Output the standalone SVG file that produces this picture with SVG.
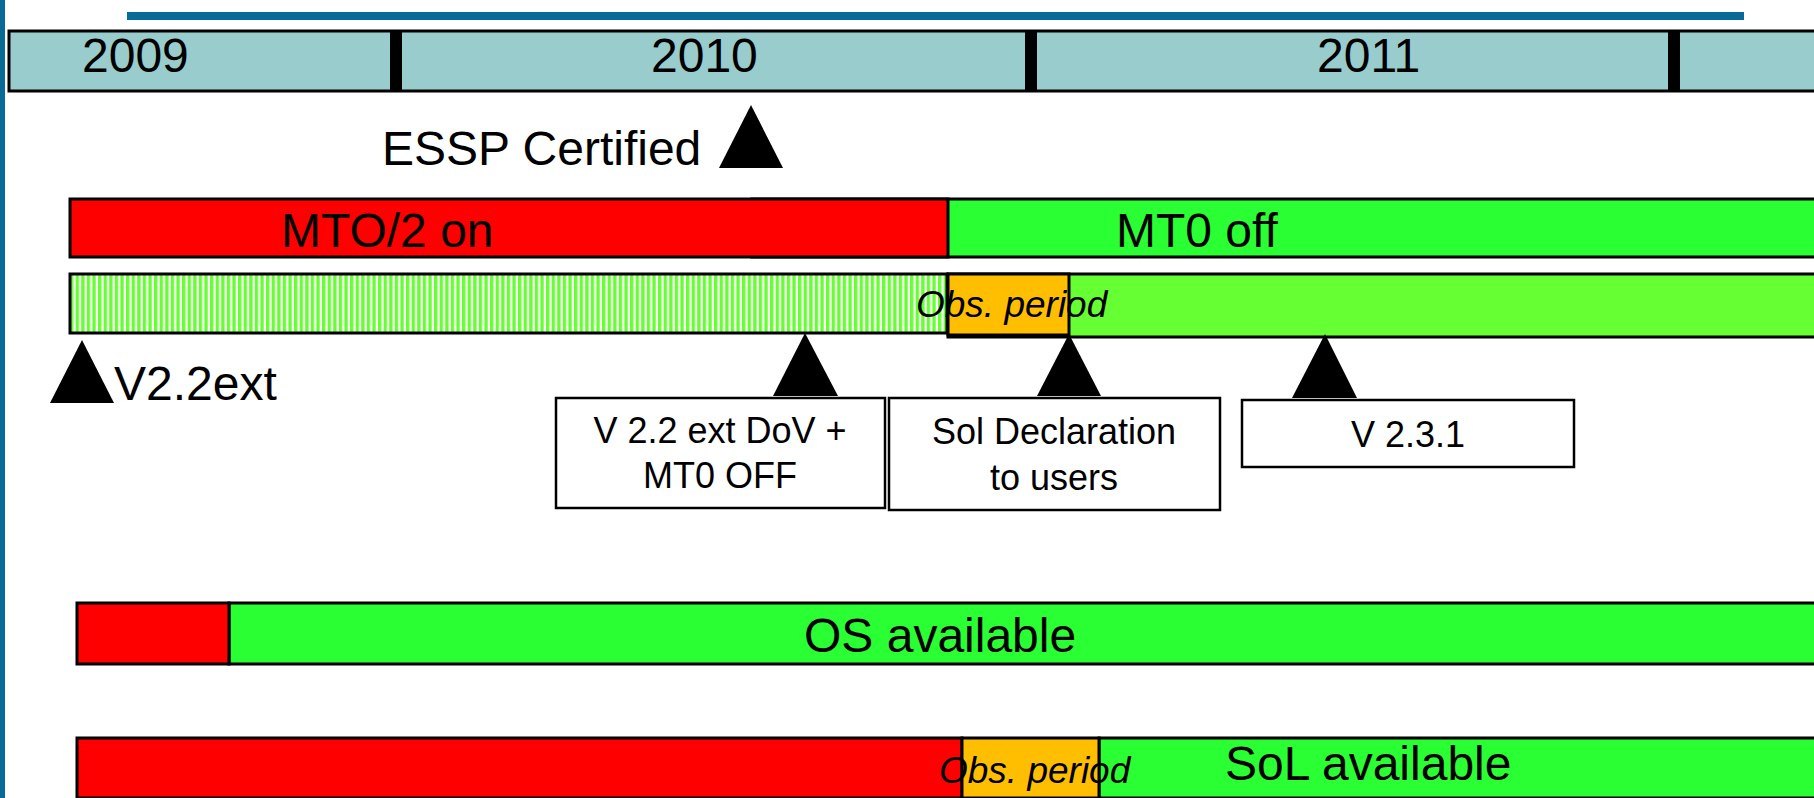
<svg xmlns="http://www.w3.org/2000/svg" width="1814" height="798" viewBox="0 0 1814 798">
<style>
text{font-family:"Liberation Sans",Arial,sans-serif;fill:#000}
.big{font-size:48px}
.mid{font-size:36px}
.obs{font-size:37px;font-style:italic}
.bar{stroke:#000;stroke-width:3}
.box{fill:#fff;stroke:#000;stroke-width:2.5}
.red{fill:#ff0000}
.grn{fill:#29ff33}
.lgr{fill:#66ff33}
.org{fill:#ffbf00}
.tri{fill:#000}
</style>
<defs>
<pattern id="hatch" x="70" y="0" width="5.6" height="10" patternUnits="userSpaceOnUse">
<rect width="5.6" height="10" fill="#fff"/>
<rect width="3.4" height="10" fill="#66ff33"/>
</pattern>
</defs>
<rect x="0" y="0" width="1814" height="798" fill="#fff"/>
<g id="frame">
<rect x="0" y="0" width="5" height="798" fill="#086a96"/>
<rect x="127" y="12" width="1617" height="8" fill="#086a96"/>
</g>
<g id="years">
<rect class="bar" x="9" y="31" width="1820" height="60" fill="#99cccc"/>
<rect x="390" y="31" width="12" height="60" fill="#000"/>
<rect x="1025" y="31" width="12" height="60" fill="#000"/>
<rect x="1668" y="31" width="12" height="60" fill="#000"/>
<text class="big" x="82" y="72">2009</text>
<text class="big" x="651" y="72">2010</text>
<text class="big" x="1317" y="72">2011</text>
</g>
<g id="essp">
<text class="big" x="382" y="165">ESSP Certified</text>
<polygon class="tri" points="751,105 719,168 783,168"/>
</g>
<g id="mto-row">
<rect class="bar grn" x="752" y="199" width="1080" height="58"/>
<rect class="bar red" x="70" y="199" width="878" height="58"/>
<text class="big" x="281" y="247">MTO/2 on</text>
<text class="big" x="1116" y="247">MT0 off</text>
</g>
<g id="version-row">
<rect class="bar lgr" x="948" y="274" width="880" height="63"/>
<rect class="bar" x="70" y="274" width="877" height="59" fill="url(#hatch)"/>
<rect class="bar org" x="948" y="274" width="121" height="61"/>
<text class="obs" x="916" y="317">Obs. period</text>
</g>
<g id="v22ext">
<polygon class="tri" points="82,340 50,403 114,403"/>
<text class="big" x="114" y="400">V2.2ext</text>
</g>
<g id="dov">
<polygon class="tri" points="805,333 773,396 838,396"/>
<rect class="box" x="556" y="398" width="329" height="110"/>
<text class="mid" x="720" y="443" text-anchor="middle">V 2.2 ext DoV +</text>
<text class="mid" x="720" y="488" text-anchor="middle">MT0 OFF</text>
</g>
<g id="sol-decl">
<polygon class="tri" points="1069,334 1037,396 1101,396"/>
<rect class="box" x="889" y="398" width="331" height="112"/>
<text class="mid" x="1054" y="444" text-anchor="middle">Sol Declaration</text>
<text class="mid" x="1054" y="490" text-anchor="middle">to users</text>
</g>
<g id="v231">
<polygon class="tri" points="1325,334 1292,398 1357,398"/>
<rect class="box" x="1242" y="400" width="332" height="67"/>
<text class="mid" x="1408" y="447" text-anchor="middle">V 2.3.1</text>
</g>
<g id="os-row">
<rect class="bar grn" x="229" y="603" width="1600" height="61"/>
<rect class="bar red" x="77" y="603" width="152" height="61"/>
<text class="big" x="804" y="652">OS available</text>
</g>
<g id="sol-row">
<rect class="bar grn" x="1099" y="738" width="730" height="60"/>
<rect class="bar red" x="77" y="738" width="885" height="60"/>
<rect class="bar org" x="962" y="738" width="137" height="60"/>
<text class="obs" x="939" y="783">Obs. period</text>
<text class="big" x="1225" y="780">SoL available</text>
</g>
<g id="connectors"/>
</svg>
